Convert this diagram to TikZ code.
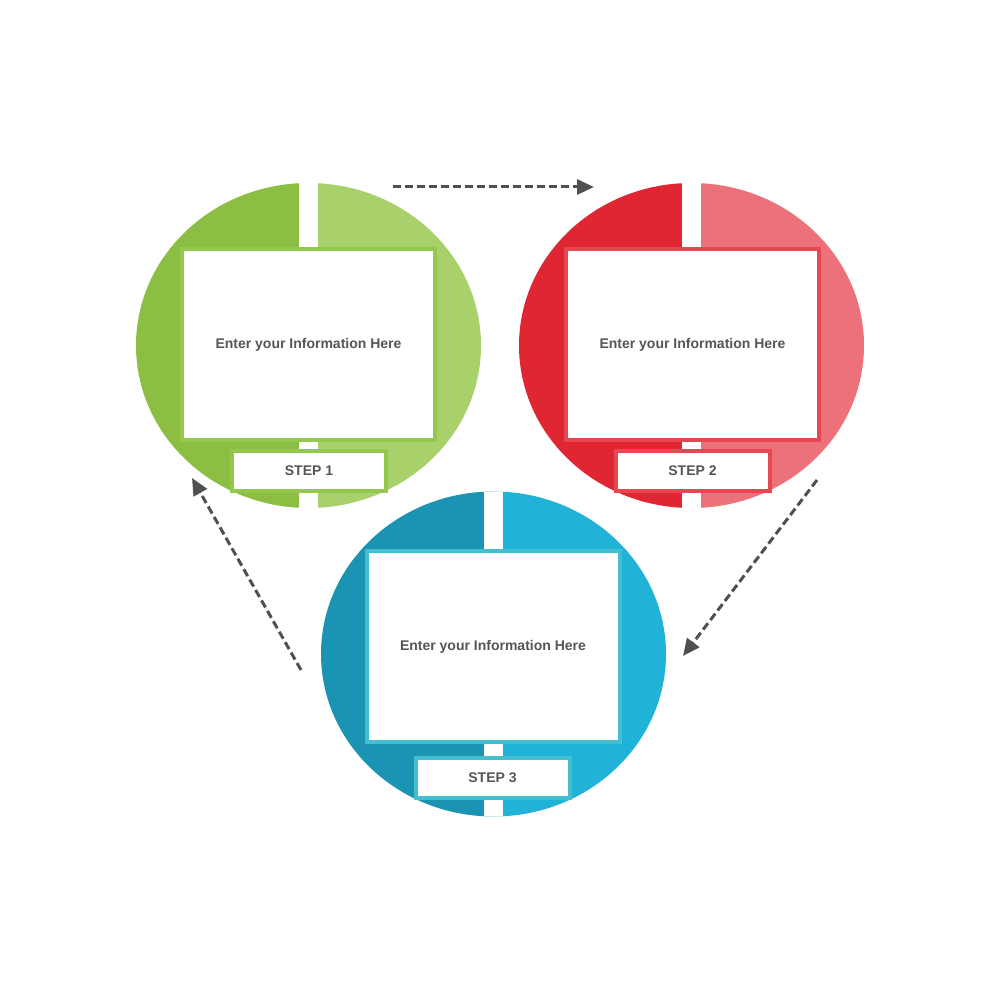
\documentclass[tikz,border=0pt]{standalone}
\usepackage{fontspec}
\setmainfont{Liberation Sans}
\usetikzlibrary{arrows.meta}
\definecolor{gdark}{HTML}{8BBE42}
\definecolor{glight}{HTML}{A8D06B}
\definecolor{gborder}{HTML}{93C84D}
\definecolor{rdark}{HTML}{E02533}
\definecolor{rlight}{HTML}{EC717A}
\definecolor{rborder}{HTML}{E84653}
\definecolor{bdark}{HTML}{1B94B4}
\definecolor{blight}{HTML}{20B3D7}
\definecolor{bborder}{HTML}{45BFCF}
\definecolor{txtgray}{HTML}{555555}
\definecolor{arrowgray}{HTML}{505050}
\newcommand\splitdisc[4]{%
  \begin{scope}
    \clip (#1,#2) ellipse [x radius=172.5pt, y radius=162.5pt];
    \fill[#3] (#1-176,#2-166) rectangle (#1,#2+166);
    \fill[#4] (#1,#2-166) rectangle (#1+176,#2+166);
    \fill[white] (#1-9.5,#2-166) rectangle (#1+9.5,#2+166);
  \end{scope}}
\begin{document}
\begin{tikzpicture}[x=1pt,y=-1pt,
  infobox/.style={draw, line width=4pt, fill=white, minimum width=253pt,
    minimum height=191pt, inner sep=0pt,
    font=\fontsize{14pt}{16pt}\selectfont\bfseries, text=txtgray},
  stepbox/.style={draw, line width=4pt, fill=white, minimum width=154pt,
    minimum height=40pt, inner sep=0pt,
    font=\fontsize{14pt}{16pt}\selectfont\bfseries, text=txtgray},
  flow/.style={draw=arrowgray, line width=3pt, dash pattern=on 8pt off 4pt,
    -{Triangle[length=17pt,width=15pt]}}]
\useasboundingbox[fill=white] (0,0) rectangle (1000,1000);

% discs
\splitdisc{308.5}{345.5}{gdark}{glight}
\splitdisc{691.5}{345.5}{rdark}{rlight}
\splitdisc{493.5}{654}{bdark}{blight}

% boxes
\node[infobox, draw=gborder] (box1) at (308.5,344.5) {Enter your Information Here};
\node[stepbox, draw=gborder] (step1) at (309,471) {STEP 1};
\node[infobox, draw=rborder] (box2) at (692.5,344.5) {Enter your Information Here};
\node[stepbox, draw=rborder] (step2) at (692.5,471) {STEP 2};
\node[infobox, draw=bborder] (box3) at (493,646.5) {Enter your Information Here};
\node[stepbox, draw=bborder] (step3) at (492.5,777.5) {STEP 3};

% arrow ends
\coordinate (a1s) at (393,187);
\coordinate (a1e) at (594,187);
\coordinate (a2s) at (817,480);
\coordinate (a2e) at (683,656);
\coordinate (a3s) at (301,670);
\coordinate (a3e) at (192,478);

\draw[flow] (a1s) -- (a1e);
\draw[flow] (a2s) -- (a2e);
\draw[flow] (a3s) -- (a3e);
\end{tikzpicture}
\end{document}
